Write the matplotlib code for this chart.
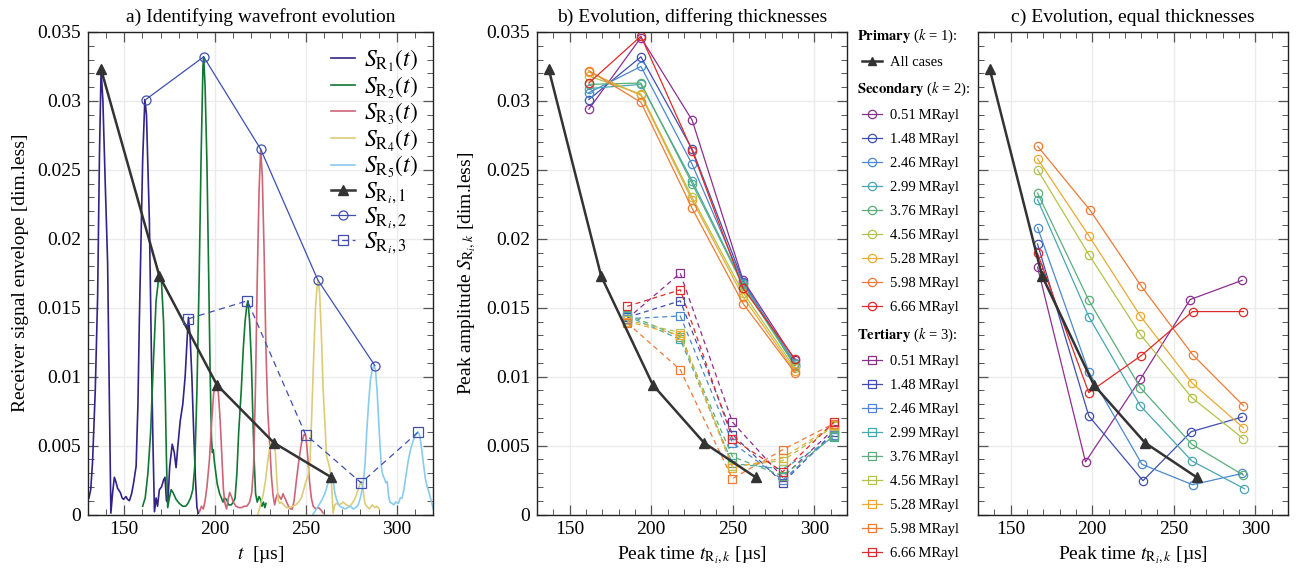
import matplotlib
matplotlib.use('Agg')
import matplotlib.pyplot as plt
from matplotlib.lines import Line2D
from matplotlib.ticker import MultipleLocator, FuncFormatter

plt.rcParams['font.family'] = ['Liberation Serif', 'DejaVu Serif']
plt.rcParams['mathtext.fontset'] = 'stix'
plt.rcParams['font.size'] = 14

# ---------------- data ----------------
# Panel a: receiver signal envelopes
sr1_t = [130.5, 131.5, 132.5, 134.0, 135.3, 136.3, 137.2, 138.2, 139.5, 140.8, 141.8, 142.6, 143.5, 144.5,
         145.3, 146.3, 147.8, 148.8, 149.6, 150.9, 151.8, 152.8, 154.0, 155.0, 156.5, 157.5, 158.3, 160.1,
         161.3, 162.2, 163.8, 165.0, 165.8, 166.6, 167.5, 168.3, 169.3, 170.5, 171.6, 172.4, 173.2, 174.0,
         175.0, 176.4, 177.5, 178.5, 179.5, 180.8, 182.2, 183.5, 184.5, 185.3, 186.2, 187.2, 188.2, 189.2,
         190.0, 190.8]
sr1_v = [0.0012, 0.0018, 0.0038, 0.0090, 0.0158, 0.0260, 0.0323, 0.0300, 0.0240, 0.0183, 0.0080, 0.0001,
         0.0015, 0.0027, 0.0024, 0.0019, 0.0016, 0.0012, 0.0011, 0.0013, 0.0011, 0.0010, 0.0015, 0.0022,
         0.0035, 0.0080, 0.0142, 0.0257, 0.0301, 0.0290, 0.0213, 0.0110, 0.0050, 0.0002, 0.0012, 0.0006,
         0.0018, 0.0020, 0.0025, 0.0027, 0.0010, 0.0009, 0.0035, 0.0051, 0.0045, 0.0034, 0.0050, 0.0068,
         0.0080, 0.0100, 0.0125, 0.0143, 0.0130, 0.0100, 0.0060, 0.0025, 0.0005, 0.0001]

sr2_t = [160.1, 161.5, 163.0, 164.5, 166.0, 167.5, 168.8, 169.6, 170.5, 171.6, 172.5, 173.2, 173.9, 174.8,
         175.8, 176.8, 178.5, 180.3, 182.2, 183.8, 185.0, 186.5, 187.7, 188.8, 190.0, 191.2, 192.3, 193.3,
         193.7, 194.5, 195.5, 196.5, 197.3, 198.0, 198.5, 199.0, 199.6, 200.3, 201.2, 202.5, 203.5, 204.3,
         205.2, 206.2, 207.5, 208.9, 210.0, 211.0, 212.0, 213.0, 214.4, 215.5, 216.5, 217.5, 218.1, 219.0,
         220.0, 220.8, 221.5, 222.3, 223.2, 224.2, 225.0, 225.8, 226.6, 227.4, 228.0]
sr2_v = [0.0006, 0.0012, 0.0030, 0.0060, 0.0110, 0.0155, 0.0170, 0.0173, 0.0168, 0.0140, 0.0090, 0.0040,
         0.0005, 0.0012, 0.0018, 0.0016, 0.0011, 0.0008, 0.0006, 0.0006, 0.0008, 0.0012, 0.0018, 0.0035,
         0.0090, 0.0170, 0.0260, 0.0325, 0.0332, 0.0310, 0.0255, 0.0170, 0.0100, 0.0055, 0.0045, 0.0047,
         0.0038, 0.0031, 0.0022, 0.0015, 0.0012, 0.0009, 0.0012, 0.0011, 0.0007, 0.0007, 0.0009, 0.0012,
         0.0030, 0.0060, 0.0090, 0.0120, 0.0140, 0.0152, 0.0155, 0.0140, 0.0110, 0.0070, 0.0040, 0.0015,
         0.0009, 0.0013, 0.0011, 0.0006, 0.0009, 0.0005, 0.0008]

sr3_t = [191.4, 192.5, 193.5, 194.5, 195.5, 196.9, 198.0, 199.2, 200.6, 201.8, 202.8, 203.8, 204.6, 205.4,
         206.3, 207.2, 208.0, 209.0, 210.0, 211.5, 213.0, 214.5, 216.0, 217.5, 219.0, 220.2, 221.2, 222.2,
         223.2, 224.2, 225.1, 226.0, 227.0, 228.0, 229.0, 230.1, 231.0, 231.9, 232.8, 233.6, 234.4, 235.4,
         236.4, 237.4, 238.4, 239.4, 240.4, 241.5, 242.5, 243.5, 244.8, 246.2, 247.6, 249.0, 250.0, 251.0,
         252.0, 253.0, 254.0, 255.5, 257.0, 258.5, 259.5]
sr3_v = [0.0002, 0.0006, 0.0004, 0.0010, 0.0020, 0.0040, 0.0065, 0.0088, 0.0096, 0.0088, 0.0068, 0.0040,
         0.0018, 0.0008, 0.0004, 0.0011, 0.0016, 0.0013, 0.0009, 0.0006, 0.0005, 0.0005, 0.0006, 0.0006,
         0.0009, 0.0016, 0.0035, 0.0090, 0.0170, 0.0235, 0.0265, 0.0245, 0.0190, 0.0120, 0.0075, 0.0050,
         0.0028, 0.0014, 0.0007, 0.0012, 0.0015, 0.0013, 0.0011, 0.0015, 0.0012, 0.0009, 0.0006, 0.0004,
         0.0004, 0.0010, 0.0025, 0.0040, 0.0052, 0.0058, 0.0057, 0.0042, 0.0024, 0.0012, 0.0006, 0.0004,
         0.0005, 0.0003, 0.0001]

sr4_t = [223.6, 225.0, 226.4, 227.8, 229.1, 230.3, 231.5, 232.4, 233.2, 234.0, 234.8, 235.6, 236.5, 237.8,
         239.3, 241.0, 242.8, 244.5, 246.0, 247.5, 248.8, 250.0, 251.2, 252.3, 253.3, 254.3, 255.3, 256.3,
         256.8, 257.6, 258.6, 259.5, 260.4, 261.4, 262.3, 263.2, 264.2, 265.0, 265.9, 266.8, 268.5, 270.5,
         272.3, 274.2, 276.0, 277.5, 279.0, 280.3, 281.5, 282.5, 283.5, 285.0, 286.5, 288.0, 289.0, 290.5]
sr4_v = [0.0000, 0.0007, 0.0014, 0.0025, 0.0040, 0.0050, 0.0054, 0.0053, 0.0045, 0.0025, 0.0010, 0.0008,
         0.0009, 0.0007, 0.0005, 0.0005, 0.0006, 0.0007, 0.0009, 0.0012, 0.0018, 0.0024, 0.0028, 0.0040,
         0.0075, 0.0115, 0.0150, 0.0168, 0.0170, 0.0160, 0.0128, 0.0090, 0.0068, 0.0042, 0.0038, 0.0033,
         0.0020, 0.0001, 0.0007, 0.0008, 0.0007, 0.0009, 0.0007, 0.0006, 0.0009, 0.0013, 0.0019, 0.0024,
         0.0018, 0.0008, 0.0006, 0.0004, 0.0007, 0.0005, 0.0006, 0.0004]

sr5_t = [253.9, 255.8, 257.7, 259.0, 260.4, 261.8, 263.1, 264.1, 265.0, 265.9, 266.8, 267.8, 268.7, 270.0,
         271.5, 273.0, 274.5, 276.1, 277.5, 278.8, 280.0, 281.3, 282.5, 283.5, 284.5, 285.5, 286.5, 287.5,
         288.3, 289.2, 290.0, 290.9, 291.7, 292.5, 293.3, 294.0, 294.8, 295.5, 296.3, 297.5, 298.5, 299.5,
         300.9, 302.0, 303.0, 304.0, 305.3, 306.5, 307.8, 309.2, 310.5, 311.6, 312.6, 313.8, 314.8, 315.8,
         316.8, 317.8, 318.6, 319.4, 320.2]
sr5_v = [0.0000, 0.0004, 0.0008, 0.0011, 0.0015, 0.0021, 0.0027, 0.0030, 0.0025, 0.0016, 0.0011, 0.0008,
         0.0006, 0.0005, 0.0004, 0.0005, 0.0006, 0.0004, 0.0005, 0.0007, 0.0012, 0.0020, 0.0035, 0.0060,
         0.0080, 0.0097, 0.0105, 0.0108, 0.0105, 0.0090, 0.0070, 0.0048, 0.0033, 0.0028, 0.0026, 0.0023,
         0.0024, 0.0014, 0.0009, 0.0008, 0.0007, 0.0009, 0.0008, 0.0012, 0.0012, 0.0018, 0.0030, 0.0040,
         0.0048, 0.0054, 0.0058, 0.0060, 0.0058, 0.0047, 0.0036, 0.0026, 0.0020, 0.0016, 0.0012, 0.0008,
         0.0004]

signal_t = [sr1_t, sr2_t, sr3_t, sr4_t, sr5_t]
signal_v = [sr1_v, sr2_v, sr3_v, sr4_v, sr5_v]
signal_colors = ['#332288', '#117733', '#CC6677', '#DDCC77', '#88CCEE']
signal_labels = [r'$S_{\mathrm{R}_1}(t)$', r'$S_{\mathrm{R}_2}(t)$', r'$S_{\mathrm{R}_3}(t)$',
                 r'$S_{\mathrm{R}_4}(t)$', r'$S_{\mathrm{R}_5}(t)$']

# Primary wavefront (k = 1), common to all cases
prim_t = [137.2, 169.3, 201.0, 232.4, 264.0]
prim_v = [0.0323, 0.0173, 0.0094, 0.0052, 0.0027]

# Panel a: secondary / tertiary peaks of the illustrated case
a_sec_t = [161.8, 193.7, 225.1, 256.6, 288.0]
a_sec_v = [0.0301, 0.0332, 0.0265, 0.0170, 0.0108]
a_ter_t = [185.3, 217.8, 249.8, 280.4, 312.0]
a_ter_v = [0.0142, 0.0155, 0.0058, 0.0023, 0.0060]

# Panel b: differing thicknesses
impedances = ['0.51', '1.48', '2.46', '2.99', '3.76', '4.56', '5.28', '5.98', '6.66']
series_colors = ['#8b2f8f', '#3f4fb0', '#4a88d0', '#47a6b3', '#5aae7a', '#b3c24a', '#eaaa32', '#ee7a35', '#dd2a2a']
b_sec_t = [161.8, 193.7, 225.1, 256.3, 288.0]
b_sec_v = [
    [0.0294, 0.0346, 0.0286, 0.0170, 0.0112],
    [0.0301, 0.0332, 0.0265, 0.0169, 0.0108],
    [0.0306, 0.0325, 0.0254, 0.0168, 0.0110],
    [0.0309, 0.0312, 0.0242, 0.0167, 0.0109],
    [0.0312, 0.0313, 0.0240, 0.0166, 0.0108],
    [0.0318, 0.0305, 0.0230, 0.0161, 0.0106],
    [0.0321, 0.0304, 0.0228, 0.0158, 0.0104],
    [0.0322, 0.0299, 0.0222, 0.0153, 0.0103],
    [0.0313, 0.0347, 0.0264, 0.0164, 0.0113],
]
b_ter_t = [185.3, 217.8, 249.8, 280.6, 312.0]
b_ter_v = [
    [0.0142, 0.0175, 0.0067, 0.0027, 0.0062],
    [0.0143, 0.0155, 0.0058, 0.0023, 0.0060],
    [0.0142, 0.0144, 0.0052, 0.0025, 0.0058],
    [0.0144, 0.0127, 0.0037, 0.0033, 0.0056],
    [0.0145, 0.0129, 0.0042, 0.0028, 0.0057],
    [0.0141, 0.0132, 0.0035, 0.0039, 0.0064],
    [0.0140, 0.0130, 0.0034, 0.0041, 0.0065],
    [0.0139, 0.0105, 0.0026, 0.0047, 0.0066],
    [0.0151, 0.0163, 0.0055, 0.0031, 0.0067],
]

# Panel c: equal thicknesses (secondary peaks)
c_sec_t = [
    [166.5, 195.9, 229.5, 260.0, 292.0],
    [166.5, 197.9, 231.1, 260.7, 292.0],
    [166.5, 197.9, 230.5, 261.5, 292.0],
    [166.5, 197.9, 229.5, 261.1, 293.3],
    [166.5, 197.9, 229.5, 261.1, 292.7],
    [166.5, 197.9, 229.5, 261.1, 292.7],
    [166.5, 197.9, 229.5, 261.1, 292.7],
    [166.5, 198.5, 229.9, 261.5, 292.7],
    [166.5, 197.9, 230.1, 261.5, 292.7],
]
c_sec_v = [
    [0.01794, 0.00382, 0.00981, 0.01559, 0.01699],
    [0.01962, 0.00715, 0.00245, 0.00601, 0.00707],
    [0.02081, 0.01034, 0.00364, 0.00216, 0.00298],
    [0.02284, 0.01435, 0.00789, 0.00388, 0.00187],
    [0.02332, 0.01553, 0.00920, 0.00509, 0.00285],
    [0.02500, 0.01886, 0.01306, 0.00847, 0.00549],
    [0.02580, 0.02023, 0.01440, 0.00955, 0.00628],
    [0.02672, 0.02210, 0.01659, 0.01160, 0.00789],
    [0.01894, 0.00884, 0.01153, 0.01472, 0.01472],
]

# ---------------- figure ----------------
W, H = 1303, 570
fig = plt.figure(figsize=(W / 100, H / 100), dpi=100)
bottom, height = 1 - 514.5 / H, (514.5 - 32) / H
axA = fig.add_axes([88 / W, bottom, 345 / W, height])
axB = fig.add_axes([537 / W, bottom, 310 / W, height])
axC = fig.add_axes([978 / W, bottom, 310 / W, height])

PRIM_COLOR = '#333333'
BLUE = '#3f4fb0'


def fmt(v, pos):
    return '%g' % round(v, 6)


def style(ax):
    ax.set_xlim(130, 320)
    ax.set_ylim(0, 0.035)
    ax.xaxis.set_major_locator(MultipleLocator(50))
    ax.xaxis.set_minor_locator(MultipleLocator(10))
    ax.yaxis.set_major_locator(MultipleLocator(0.005))
    ax.yaxis.set_minor_locator(MultipleLocator(0.001))
    ax.yaxis.set_major_formatter(FuncFormatter(fmt))
    ax.tick_params(which='both', direction='in', top=True, right=True, color='#555555')
    ax.tick_params(which='major', length=7, width=0.9, labelsize=14, pad=5)
    ax.tick_params(which='minor', length=4, width=0.7)
    ax.grid(True, which='major', color='#ebebeb', lw=1.0)
    ax.set_axisbelow(True)
    for sp in ax.spines.values():
        sp.set_color('#222222')
        sp.set_linewidth(1.0)


for ax in (axA, axB, axC):
    style(ax)

# ---- panel a ----
for t, v, c, lab in zip(signal_t, signal_v, signal_colors, signal_labels):
    axA.plot(t, v, color=c, lw=1.2, label=lab)
axA.plot(prim_t, prim_v, color=PRIM_COLOR, lw=1.8, marker='^', ms=6.5, label=r'$S_{\mathrm{R}_i,1}$')
axA.plot(a_sec_t, a_sec_v, color=BLUE, lw=0.9, marker='o', ms=6.5, mfc='none', mew=0.9,
         label=r'$S_{\mathrm{R}_i,2}$')
axA.plot(a_ter_t, a_ter_v, color=BLUE, lw=0.9, ls=(0, (5, 3.5)), marker='s', ms=6.5, mfc='none', mew=0.9,
         label=r'$S_{\mathrm{R}_i,3}$')
axA.legend(loc='upper right', frameon=False, fontsize=17, handlelength=1.05, handletextpad=0.35,
           labelspacing=0.0, borderaxespad=0.45, borderpad=0.2)
axA.set_title('a) Identifying wavefront evolution', fontsize=14, pad=7)
axA.set_xlabel(r'$t$  [µs]', fontsize=14, labelpad=4)
axA.set_ylabel('Receiver signal envelope [dim.less]', fontsize=14, labelpad=6)

# ---- panel b ----
axB.plot(prim_t, prim_v, color=PRIM_COLOR, lw=1.8, marker='^', ms=6.5, zorder=3)
for vals, c in zip(b_sec_v, series_colors):
    axB.plot(b_sec_t, vals, color=c, lw=0.9, marker='o', ms=6, mfc='none', mew=0.9)
for vals, c in zip(b_ter_v, series_colors):
    axB.plot(b_ter_t, vals, color=c, lw=0.9, ls=(0, (4, 3)), marker='s', ms=6, mfc='none', mew=0.9)
axB.set_title('b) Evolution, differing thicknesses', fontsize=14, pad=7)
axB.set_xlabel(r'Peak time $t_{\mathrm{R}_i,k}$ [µs]', fontsize=14, labelpad=4)
axB.set_ylabel(r'Peak amplitude $S_{\mathrm{R}_i,k}$ [dim.less]', fontsize=14, labelpad=6)

# ---- panel c ----
axC.plot(prim_t, prim_v, color=PRIM_COLOR, lw=1.8, marker='^', ms=6.5, zorder=3)
for tt, vals, c in zip(c_sec_t, c_sec_v, series_colors):
    axC.plot(tt, vals, color=c, lw=0.9, marker='o', ms=6, mfc='none', mew=0.9)
axC.tick_params(labelleft=False)
axC.set_title('c) Evolution, equal thicknesses', fontsize=14, pad=7)
axC.set_xlabel(r'Peak time $t_{\mathrm{R}_i,k}$ [µs]', fontsize=14, labelpad=4)

# ---- shared legend between b and c ----
blank = Line2D([], [], linestyle='none')
handles, labels, header_idx = [], [], []
header_idx.append(len(handles)); handles.append(blank); labels.append(r'$\mathbf{Primary}$ ($k$ = 1):')
handles.append(Line2D([], [], color=PRIM_COLOR, lw=1.8, marker='^', ms=6)); labels.append('All cases')
header_idx.append(len(handles)); handles.append(blank); labels.append(r'$\mathbf{Secondary}$ ($k$ = 2):')
for imp, c in zip(impedances, series_colors):
    handles.append(Line2D([], [], color=c, lw=0.9, marker='o', ms=6, mfc='none', mew=0.9))
    labels.append(imp + '\u2009MRayl')
header_idx.append(len(handles)); handles.append(blank); labels.append(r'$\mathbf{Tertiary}$ ($k$ = 3):')
for imp, c in zip(impedances, series_colors):
    handles.append(Line2D([], [], color=c, lw=0.9, marker='s', ms=6, mfc='none', mew=0.9))
    labels.append(imp + '\u2009MRayl')

leg = axB.legend(handles, labels, loc='upper left', bbox_to_anchor=(862 / W, 1 - 27 / H),
                 bbox_transform=fig.transFigure, frameon=False, fontsize=10.5, handlelength=1.35,
                 handletextpad=0.55, labelspacing=0.74, borderaxespad=0, borderpad=0)

fig.canvas.draw()
texts = leg.get_texts()
for i in header_idx:
    t = texts[i]
    bb = t.get_window_extent()
    fig.text(857 / W, bb.y0 / H, t.get_text(), fontsize=10.5, ha='left', va='bottom')
    t.set_visible(False)

fig.savefig('out.png', dpi=100)
